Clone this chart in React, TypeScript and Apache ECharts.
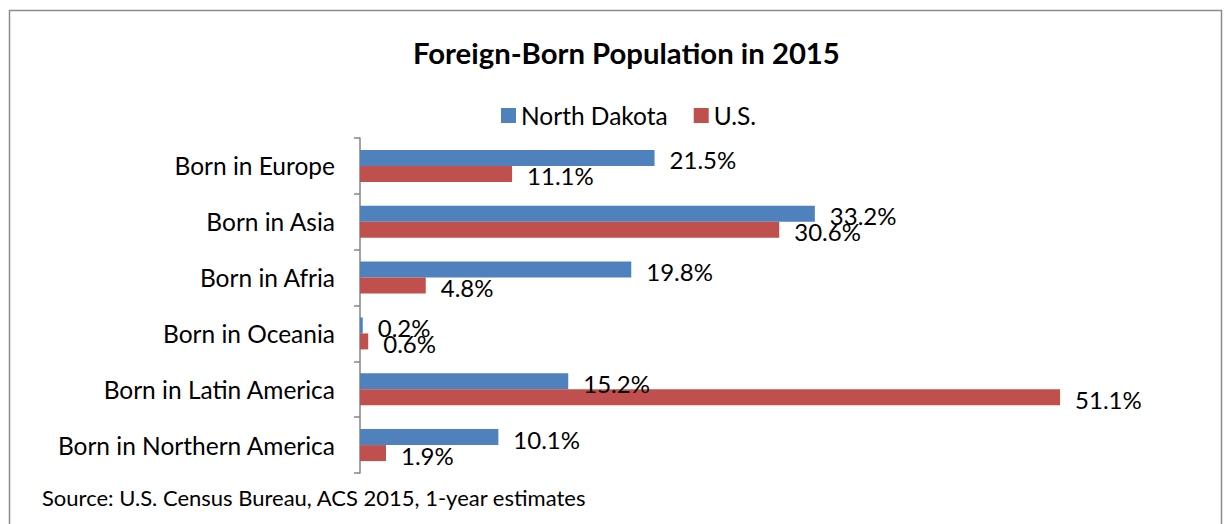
import React, { useEffect, useRef } from "react";
import * as echarts from "echarts";

const categories = [
  "Born in Europe",
  "Born in Asia",
  "Born in Afria",
  "Born in Oceania",
  "Born in Latin America",
  "Born in Northern America",
];
const northDakota = [21.5, 33.2, 19.8, 0.2, 15.2, 10.1];
const us = [11.1, 30.6, 4.8, 0.6, 51.1, 1.9];
const seriesNames = ["North Dakota", "U.S."];
const titleText = "Foreign-Born Population in 2015";
const sourceText = "Source: U.S. Census Bureau, ACS 2015, 1-year estimates";

const FONT = "Lato";

export default function App() {
  const ref = useRef<HTMLDivElement>(null);
  useEffect(() => {
    document.body.style.margin = "0";
    if (!ref.current) return;
    const chart = echarts.init(ref.current, undefined, { renderer: "svg" });
    const labelCfg = {
      show: true,
      position: "right",
      distance: 15,
      offset: [0, 2],
      formatter: (p: any) => p.value.toFixed(1) + "%",
      fontFamily: FONT,
      fontSize: 24,
      color: "#000",
    };
    chart.setOption({
      animation: false,
      backgroundColor: "#fff",
      title: {
        text: titleText,
        left: 408,
        top: 33,
        textStyle: { fontFamily: FONT, fontWeight: "bold", fontSize: 29.3, color: "#000" },
      },
      legend: {
        data: seriesNames,
        top: 98,
        left: 496,
        itemWidth: 15,
        itemHeight: 15,
        itemGap: 26,
        icon: "rect",
        textStyle: { fontFamily: FONT, fontSize: 24.5, color: "#000" },
      },
      grid: { left: 360, top: 138, width: 822, height: 335, containLabel: false },
      xAxis: {
        type: "value",
        min: 0,
        max: 60,
        show: false,
        splitLine: { show: false },
      },
      yAxis: {
        type: "category",
        data: categories,
        inverse: true,
        axisLine: { show: true, lineStyle: { color: "#868686", width: 1.5 } },
        axisTick: { show: true, length: 6, lineStyle: { color: "#868686", width: 1.5 } },
        axisLabel: { margin: 25, fontFamily: FONT, fontSize: 24.5, color: "#000" },
      },
      series: [
        {
          name: seriesNames[0],
          type: "bar",
          data: northDakota,
          barWidth: 16,
          barGap: "0%",
          itemStyle: { color: "#4F81BD" },
          label: labelCfg,
        },
        {
          name: seriesNames[1],
          type: "bar",
          data: us,
          barWidth: 16,
          barGap: "0%",
          itemStyle: { color: "#C0504D" },
          label: labelCfg,
        },
      ],
      graphic: [
        {
          type: "rect",
          shape: { x: 9.5, y: 10.5, width: 1212, height: 540 },
          style: { fill: "none", stroke: "#8c8c8c", lineWidth: 1.5 },
          silent: true,
        },
        {
          type: "text",
          left: 42,
          top: 486,
          style: { text: sourceText, fontFamily: FONT, fontSize: 22, fill: "#000" },
        },
      ],
    });
    return () => chart.dispose();
  }, []);
  return <div ref={ref} style={{ width: 1232, height: 524 }} />;
}
